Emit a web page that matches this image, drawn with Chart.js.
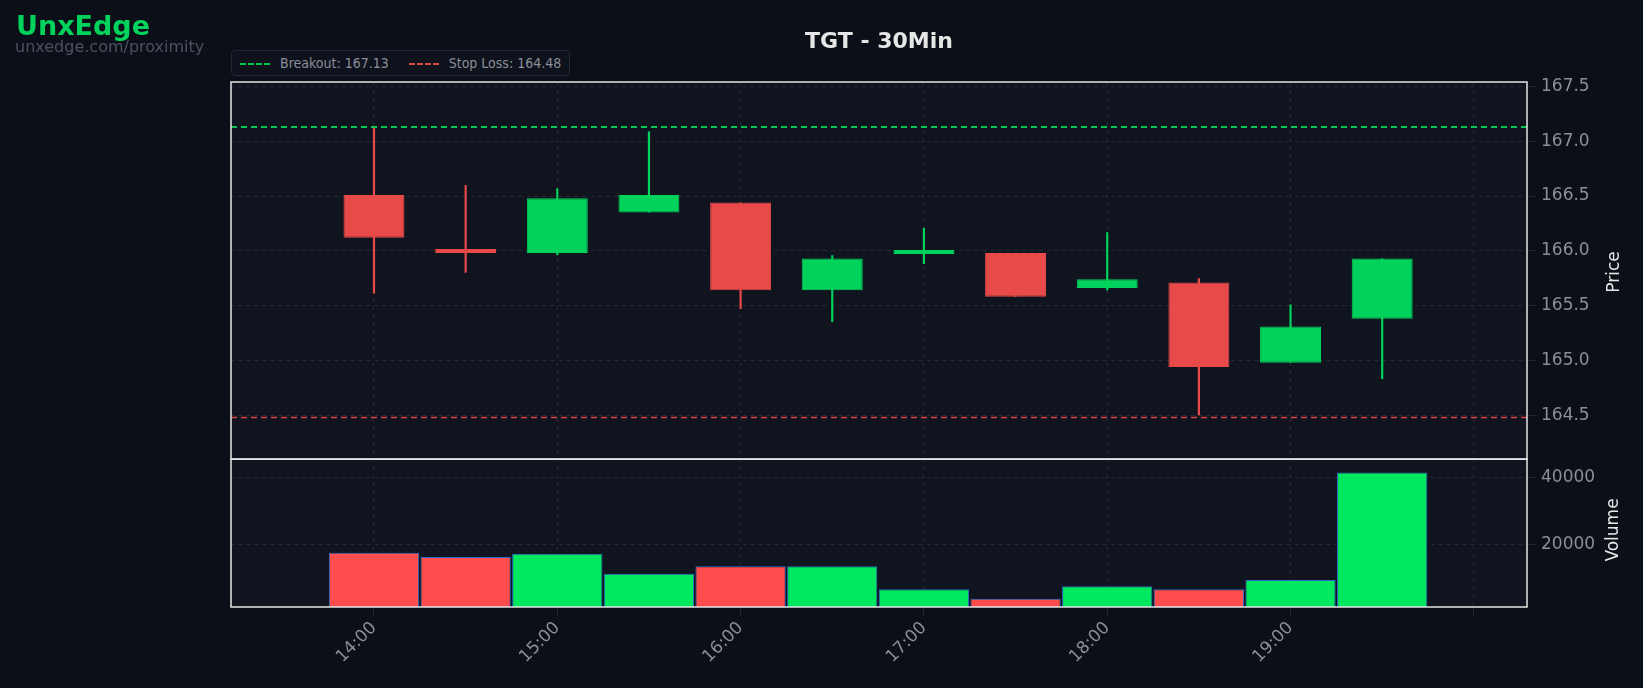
<!DOCTYPE html>
<html>
<head>
<meta charset="utf-8">
<script src="https://cdn.jsdelivr.net/npm/chart.js@4/dist/chart.umd.min.js"></script>
<style>
  body { margin: 0; background: #0b0f17; font-family: "DejaVu Sans", sans-serif; }
  #wrap { position: relative; width: 1643px; height: 688px; }
  .brand { position: absolute; left: 16px; top: 10px; color: #00d25b; font-weight: bold; font-size: 27px; }
  .sub { position: absolute; left: 15px; top: 37px; color: #4b5160; font-size: 16px; }
  .title { position: absolute; left: 0; width: 1758px; top: 28px; text-align: center; color: #e6e6e6; font-weight: bold; font-size: 22px; }
  .legend { position: absolute; left: 231px; top: 50px; padding: 4px 8px; border: 1px solid #232836; border-radius: 4px; background: #0e121c; color: #8a8f99; font-size: 14px; font-family: "DejaVu Sans Condensed", "DejaVu Sans", sans-serif; }
  .legend span.l { display: inline-block; width: 30px; border-top: 2px dashed; vertical-align: middle; margin-right: 10px; }
  .ytitle { position: absolute; color: #e6e6e6; font-size: 17px; transform: rotate(-90deg); transform-origin: center; }
  canvas { position: absolute; left: 0; top: 0; }
</style>
</head>
<body>
<div id="wrap">
  <canvas id="c" width="1643" height="688"></canvas>
  <div class="brand">UnxEdge</div>
  <div class="sub">unxedge.com/proximity</div>
  <div class="title">TGT - 30Min</div>
  <div class="legend"><span class="l" style="color:#00c853"></span>Breakout: 167.13 &nbsp;&nbsp;&nbsp;&nbsp;<span class="l" style="color:#e04848"></span>Stop Loss: 164.48</div>
  <div class="ytitle" style="left:1592px; top:262px;">Price</div>
  <div class="ytitle" style="left:1580px; top:520px;">Volume</div>
</div>
<script>
// times as decimal hours
const times = [14.0, 14.5, 15.0, 15.5, 16.0, 16.5, 17.0, 17.5, 18.0, 18.5, 19.0, 19.5];
const opens  = [166.51, 166.01, 165.98, 166.35, 166.44, 165.64, 165.97, 165.98, 165.66, 165.71, 164.98, 165.38];
const highs  = [167.14, 166.60, 166.57, 167.09, 166.44, 165.96, 166.21, 165.98, 166.17, 165.75, 165.51, 165.93];
const lows   = [165.61, 165.80, 165.96, 166.35, 165.47, 165.35, 165.88, 165.58, 165.64, 164.50, 164.98, 164.83];
const closes = [166.12, 165.98, 166.48, 166.51, 165.64, 165.93, 166.00, 165.58, 165.74, 164.94, 165.31, 165.93];
const volumes = [17500, 16250, 17200, 11250, 13440, 13440, 6560, 3750, 7500, 6560, 9375, 41560];
const breakout = 167.13;
const stopLoss = 164.48;

const GREEN = '#00d25b', RED = '#e84a4a';
const up = times.map((t, i) => closes[i] >= opens[i]);
const candleColor = up.map(u => u ? GREEN : RED);
const volColor = up.map(u => u ? '#00e860' : '#ff4d4d');
const xMin = 13.22, xMax = 20.29;

const frame = {
  id: 'frame',
  beforeDraw(chart) {
    const { ctx, chartArea: a } = chart;
    ctx.save();
    ctx.fillStyle = '#10141f';
    ctx.fillRect(a.left, a.top, a.right - a.left, a.bottom - a.top);
    ctx.restore();
  },
  afterDraw(chart) {
    const { ctx, chartArea: a } = chart;
    ctx.save();
    ctx.strokeStyle = '#e6e6e6';
    ctx.lineWidth = 1.5;
    ['price', 'vol'].forEach(id => {
      const s = chart.scales[id];
      ctx.strokeRect(a.left, s.top, a.right - a.left, s.bottom - s.top);
    });
    ctx.restore();
  }
};

const grid = { color: '#232836', lineWidth: 1, offset: false };
const border = { display: false, dash: [4, 4] };
const tick = { color: '#8a8f99', font: { size: 17, family: 'DejaVu Sans' } };

new Chart(document.getElementById('c'), {
  data: {
    datasets: [
      { type: 'line', yAxisID: 'price', data: [{ x: xMin, y: breakout }, { x: xMax, y: breakout }],
        borderColor: '#00c853', borderWidth: 2, borderDash: [6, 4], pointRadius: 0 },
      { type: 'line', yAxisID: 'price', data: [{ x: xMin, y: stopLoss }, { x: xMax, y: stopLoss }],
        borderColor: '#d9434a', borderWidth: 1.5, borderDash: [6, 4], pointRadius: 0 },
      { type: 'bar', yAxisID: 'price', grouped: false,
        data: times.map((t, i) => ({ x: t, y: [lows[i], highs[i]] })),
        backgroundColor: candleColor, barPercentage: 0.024, categoryPercentage: 1 },
      { type: 'bar', yAxisID: 'price', grouped: false, minBarLength: 4,
        data: times.map((t, i) => ({ x: t, y: [opens[i], closes[i]] })),
        backgroundColor: candleColor, borderColor: candleColor, borderWidth: 1, borderSkipped: false,
        barPercentage: 0.665, categoryPercentage: 1 },
      { type: 'bar', yAxisID: 'vol', grouped: false,
        data: times.map((t, i) => ({ x: t, y: volumes[i] })),
        backgroundColor: volColor, borderColor: '#2f6fd0', borderWidth: 1, borderSkipped: false,
        barPercentage: 0.985, categoryPercentage: 1 }
    ]
  },
  options: {
    responsive: false,
    animation: false,
    layout: { padding: { left: 231, top: 82, right: 46, bottom: 0 } },
    plugins: { legend: { display: false }, tooltip: { enabled: false } },
    scales: {
      x: {
        type: 'linear', min: xMin, max: xMax, offset: false, bounds: 'ticks',
        grid: grid, border: border,
        afterDataLimits: s => { s.min = xMin; s.max = xMax; },
        afterBuildTicks: s => { s.ticks = [14, 15, 16, 17, 18, 19, 20].map(v => ({ value: v })); },
        ticks: { ...tick, maxRotation: 45, minRotation: 45, callback: v => v < 20 ? v + ':00' : '' },
        afterFit: s => { s.height = 81; }
      },
      price: {
        position: 'right', stack: 'main', stackWeight: 2.55, offset: false,
        min: 164.1, max: 167.54,
        grid: grid, border: border,
        afterBuildTicks: s => { s.ticks = [164.5, 165, 165.5, 166, 166.5, 167, 167.5].map(v => ({ value: v })); },
        ticks: { ...tick, callback: v => v.toFixed(1), padding: 6 },
        afterFit: s => { s.width = 70; }
      },
      vol: {
        position: 'right', stack: 'main', stackWeight: 1, offset: false,
        min: 1250, max: 45600,
        grid: grid, border: border,
        afterBuildTicks: s => { s.ticks = [20000, 40000].map(v => ({ value: v })); },
        ticks: { ...tick, padding: 6, callback: v => String(v) },
        afterFit: s => { s.width = 70; }
      }
    }
  },
  plugins: [frame]
});
</script>
</body>
</html>
